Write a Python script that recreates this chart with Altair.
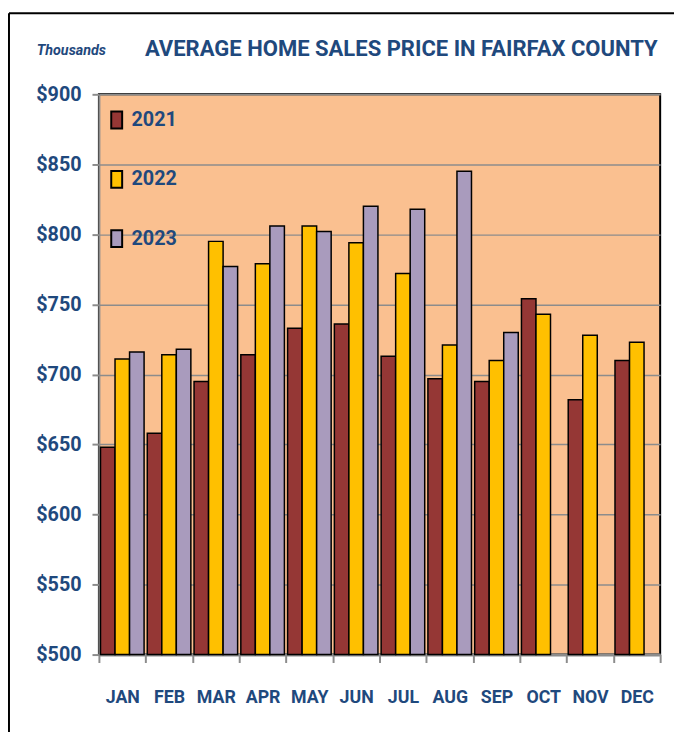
import altair as alt
import pandas as pd

months = ["JAN", "FEB", "MAR", "APR", "MAY", "JUN", "JUL", "AUG", "SEP", "OCT", "NOV", "DEC"]
years = ["2021", "2022", "2023"]
v2021 = [648, 658, 695, 714, 733, 736, 713, 697, 695, 754, 682, 710]
v2022 = [711, 714, 795, 779, 806, 794, 772, 721, 710, 743, 728, 723]
v2023 = [716, 718, 777, 806, 802, 820, 818, 845, 730, None, None, None]
colors = ["#953735", "#FFC000", "#A99BBD"]
y_ticks = [500, 550, 600, 650, 700, 750, 800, 850, 900]
title_text = "AVERAGE  HOME SALES  PRICE IN FAIRFAX  COUNTY"
unit_text = "Thousands"

rows = []
for yr, vals in zip(years, [v2021, v2022, v2023]):
    for m, v in zip(months, vals):
        if v is not None:
            rows.append({"month": m, "year": yr, "price": v})
df = pd.DataFrame(rows)

BLUE = "#1F497D"
FONT = "Roboto"

bars = alt.Chart(df).mark_bar(stroke="black", strokeWidth=1.5).encode(
    x=alt.X(
        "month:N", sort=months,
        scale=alt.Scale(domain=months, paddingInner=0, paddingOuter=0),
        axis=alt.Axis(title=None, labelAngle=0, tickBand="extent", labelFont=FONT,
                      labelFontSize=18, labelFontWeight="bold", labelColor=BLUE,
                      labelPadding=26, tickSize=8, tickColor="#8c8c8c", tickWidth=2,
                      domainColor="#8c8c8c", domainWidth=3, grid=False),
    ),
    xOffset=alt.XOffset("year:N", scale=alt.Scale(domain=years, paddingInner=0, paddingOuter=0.11)),
    y=alt.Y(
        "price:Q",
        scale=alt.Scale(domain=[500, 900], zero=False, nice=False),
        axis=alt.Axis(title=None, values=y_ticks, labelExpr="'$' + datum.value",
                      labelFont=FONT, labelFontSize=20, labelFontWeight="bold",
                      labelColor=BLUE, labelPadding=11, tickSize=7, tickColor="#8c8c8c",
                      tickWidth=2, domainColor="#8c8c8c", domainWidth=2,
                      grid=True, gridColor="#8c8c8c", gridWidth=1.5),
    ),
    y2=alt.datum(500),
    color=alt.Color(
        "year:N",
        scale=alt.Scale(domain=years, range=colors),
        legend=alt.Legend(
            title=None, orient="none", legendX=8, legendY=16, direction="vertical",
            symbolType="M-0.65,-1L0.65,-1L0.65,1L-0.65,1Z", symbolSize=289,
            symbolStrokeColor="black", symbolStrokeWidth=2, symbolOpacity=1,
            labelFont=FONT, labelFontSize=20, labelFontWeight="bold", labelColor=BLUE,
            labelOffset=5, rowPadding=34, padding=0,
        ),
    ),
)

one = pd.DataFrame({"t": [title_text], "u": [unit_text]})

title = alt.Chart(one).mark_text(
    font=FONT, fontSize=22.3, fontWeight="bold", color=BLUE, align="center", baseline="alphabetic"
).encode(x=alt.value(306), y=alt.value(-39), text="t:N")

unit = alt.Chart(one).mark_text(
    font=FONT, fontSize=14.5, fontStyle="italic", fontWeight="bold", color=BLUE,
    align="left", baseline="alphabetic"
).encode(x=alt.value(-63), y=alt.value(-40), text="u:N")

left_border = alt.Chart(one).mark_rule(color="black", strokeWidth=2).encode(
    x=alt.value(-91), y=alt.value(-82), y2=alt.value(660)
)
top_border = alt.Chart(one).mark_rule(color="black", strokeWidth=2).encode(
    x=alt.value(-91), x2=alt.value(590), y=alt.value(-82)
)

chart = alt.layer(bars, title, unit, left_border, top_border).properties(
    width=568, height=567,
    padding={"left": 92, "top": 83, "right": 14, "bottom": 74},
    autosize=alt.AutoSizeParams(type="none"),
).configure_view(fill="#FAC090", stroke="black", strokeWidth=2)

chart.save("out.html", embed_options={"renderer": "svg", "actions": False})
